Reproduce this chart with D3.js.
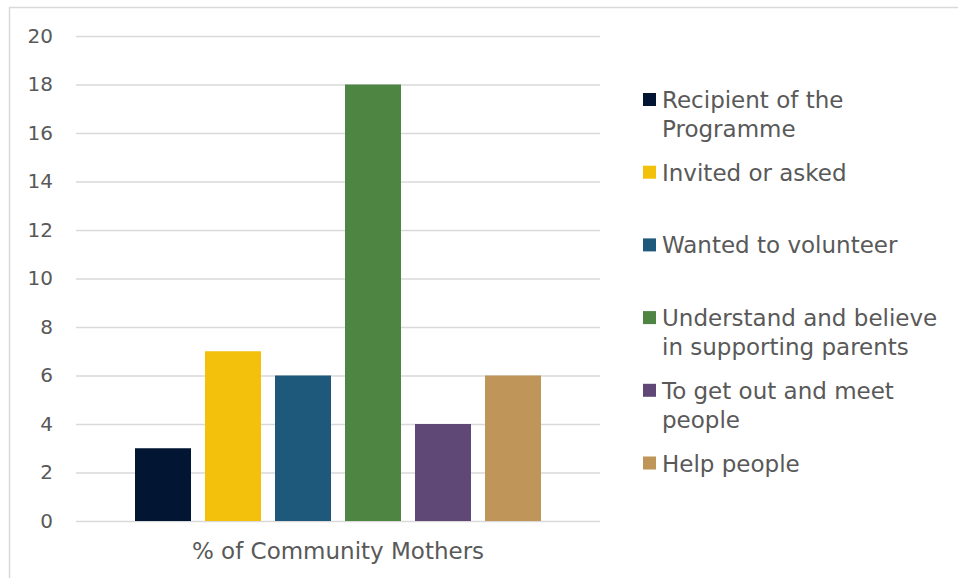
<!DOCTYPE html>
<html>
<head>
<meta charset="utf-8">
<script src="https://cdn.jsdelivr.net/npm/d3@7"></script>
<style>
  body { margin: 0; background: #fff; }
  svg { display: block; font-family: "DejaVu Sans", sans-serif; }
</style>
</head>
<body>
<svg width="958" height="578"></svg>
<script>
// data
var category = "% of Community Mothers";
var series = ["Recipient of the Programme", "Invited or asked", "Wanted to volunteer",
  "Understand and believe in supporting parents", "To get out and meet people", "Help people"];
var values = [3, 7, 6, 18, 4, 6];
var colors = ["#021533", "#f3c00c", "#1e587a", "#4e8542", "#5f4876", "#c0955a"];
var legendLines = [["Recipient of the", "Programme"], ["Invited or asked"], ["Wanted to volunteer"],
  ["Understand and believe", "in supporting parents"], ["To get out and meet", "people"], ["Help people"]];
var yTicks = [0, 2, 4, 6, 8, 10, 12, 14, 16, 18, 20];

var svg = d3.select("svg");

// outer frame (only top and left edges are in view)
svg.append("path")
  .attr("d", "M9.5,578V7.5H958")
  .attr("fill", "none").attr("stroke", "#d9d9d9").attr("stroke-width", 1.5);

/* SCALES */
var y = d3.scaleLinear().domain([0, 20]).range([521, 36]);
var x0 = d3.scaleBand().domain([category]).range([76, 600]);
var x1 = d3.scaleBand().domain(series).range([x0(category), x0(category) + x0.bandwidth()])
  .paddingInner(0.2).paddingOuter(0.843);
var color = d3.scaleOrdinal().domain(series).range(colors);

/* GRID + Y AXIS */
var yAxis = svg.append("g")
  .attr("transform", "translate(76,0)")
  .call(d3.axisLeft(y).tickValues(yTicks).tickSize(-524).tickPadding(23));
yAxis.select(".domain").remove();
yAxis.selectAll(".tick line").attr("stroke", "#d9d9d9").attr("stroke-width", 1.5);
yAxis.selectAll(".tick text")
  .attr("fill", "#595959").attr("font-size", "20px")
  .attr("font-family", "DejaVu Sans, sans-serif");

/* BARS */
svg.append("g")
  .selectAll("rect")
  .data(series)
  .enter()
  .append("rect")
  .attr("x", function (d) { return x1(d); })
  .attr("width", x1.bandwidth())
  .attr("y", function (d, i) { return y(values[i]); })
  .attr("height", function (d, i) { return y(0) - y(values[i]); })
  .attr("fill", function (d) { return color(d); });

/* X AXIS LABEL */
var xAxis = svg.append("g")
  .attr("transform", "translate(0,521)")
  .call(d3.axisBottom(x0).tickSize(0).tickPadding(22));
xAxis.select(".domain").remove();
xAxis.selectAll(".tick text")
  .attr("fill", "#595959").attr("font-size", "23px")
  .attr("font-family", "DejaVu Sans, sans-serif");

/* LEGEND */
var legend = svg.append("g")
  .selectAll("g")
  .data(series)
  .enter()
  .append("g")
  .attr("transform", function (d, i) { return "translate(643," + (99.5 + i * 72.7) + ")"; });

legend.append("rect")
  .attr("x", 0).attr("y", -6.5)
  .attr("width", 13).attr("height", 13)
  .attr("fill", function (d) { return color(d); });

legend.append("text")
  .attr("fill", "#595959")
  .attr("font-size", "23px")
  .selectAll("tspan")
  .data(function (d, i) { return legendLines[i]; })
  .enter()
  .append("tspan")
  .attr("x", 19)
  .attr("y", function (d, j) { return 8.5 + j * 29; })
  .text(function (d) { return d; });
</script>
</body>
</html>
